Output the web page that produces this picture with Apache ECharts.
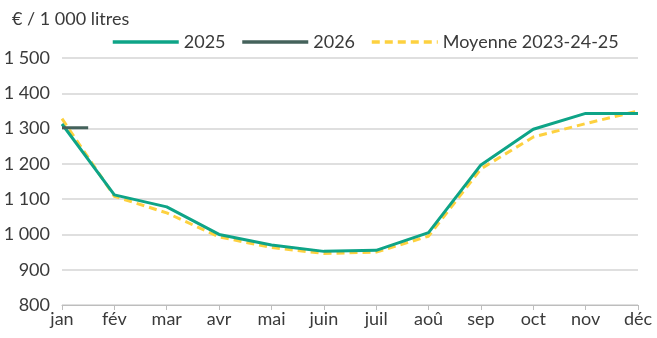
<!DOCTYPE html>
<html>
<head>
<meta charset="utf-8">
<script src="https://cdn.jsdelivr.net/npm/echarts@6/dist/echarts.min.js"></script>
<style>
  html, body { margin: 0; padding: 0; background: #fff; }
  #chart { width: 657px; height: 338px; }
</style>
</head>
<body>
<div id="chart"></div>
<script>
// Monthly price, € per 1 000 litres
const months = ['jan', 'fév', 'mar', 'avr', 'mai', 'juin', 'juil', 'aoû', 'sep', 'oct', 'nov', 'déc'];
const values2025 = [1313, 1112, 1078, 1000, 970, 952, 955, 1005, 1197, 1298, 1343, 1343];
const valuesAvg = [1328, 1108, 1061, 993, 963, 946, 950, 995, 1186, 1276, 1314, 1350];
// 2026: first half-month so far (x in months from January)
const values2026 = [[0, 1302], [0.5, 1302]];
const yTicks = { min: 800, max: 1500, step: 100 };

const FONT = 'Lato';
const TEXT = '#3a3a3a';

const fmt = v => String(v).replace(/\B(?=(\d{3})+(?!\d))/g, ' ');

const chart = echarts.init(document.getElementById('chart'));
chart.setOption({
  animation: false,
  textStyle: { fontFamily: FONT },
  title: {
    text: '€ / 1 000 litres',
    left: 12, top: 10,
    padding: 0,
    textStyle: { fontFamily: FONT, fontSize: 18, fontWeight: 'normal', color: TEXT }
  },
  legend: {
    top: 28, left: 106,
    itemWidth: 66, itemHeight: 8, itemGap: 15,
    // line-only keys: hide the marker dot drawn in the middle of each key
    itemStyle: { opacity: 0 },
    lineStyle: { width: 3.5 },
    textStyle: { fontFamily: FONT, fontSize: 18, color: TEXT },
    data: ['2025', '2026', 'Moyenne 2023-24-25']
  },
  grid: { left: 62, right: 19, top: 58, bottom: 33 },
  xAxis: [
    {
      type: 'category',
      data: months,
      boundaryGap: false,
      axisLine: { lineStyle: { color: '#bdbdbd', width: 1 } },
      axisTick: { show: true, length: 5, lineStyle: { color: '#bdbdbd' } },
      axisLabel: { fontFamily: FONT, fontSize: 18, color: TEXT, margin: 5, interval: 0 },
      splitLine: { show: false }
    },
    {
      type: 'value', min: 0, max: months.length - 1, show: false
    }
  ],
  yAxis: {
    type: 'value',
    min: yTicks.min, max: yTicks.max, interval: yTicks.step,
    axisLine: { show: false },
    axisTick: { show: false },
    axisLabel: { fontFamily: FONT, fontSize: 18, color: TEXT, margin: 12, formatter: fmt },
    splitLine: { lineStyle: { color: '#d4d4d4', width: 1.5 } }
  },
  series: [
    {
      name: 'Moyenne 2023-24-25',
      type: 'line',
      data: valuesAvg,
      symbol: 'none',
      itemStyle: { color: '#fdd13f' },
      lineStyle: { color: '#fdd13f', width: 3, type: [8, 5] },
      z: 2
    },
    {
      name: '2025',
      type: 'line',
      data: values2025,
      symbol: 'none',
      itemStyle: { color: '#0ea487' },
      lineStyle: { color: '#0ea487', width: 3 },
      z: 3
    },
    {
      name: '2026',
      type: 'line',
      xAxisIndex: 1,
      data: values2026,
      symbol: 'none',
      itemStyle: { color: '#44625b' },
      lineStyle: { color: '#44625b', width: 3 },
      z: 4
    }
  ]
});
</script>
</body>
</html>
